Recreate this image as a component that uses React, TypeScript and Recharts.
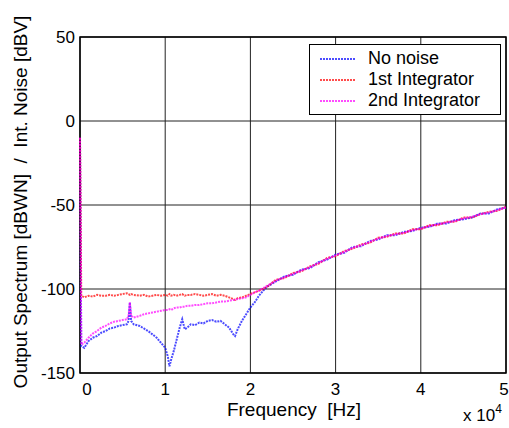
import React from 'react';
import { LineChart, Line, XAxis, YAxis, CartesianGrid, ReferenceArea } from 'recharts';

// frequency grid in Hz
const freqHz = [
  0, 150, 500, 1000, 1500, 2000, 2500, 3000, 3500, 4000, 4500, 5000, 5500, 5700, 5850, 6000, 6300,
  7000, 7500, 8000, 8500, 9000, 9500, 10000, 10300, 10500, 10700, 11000, 11300, 11700, 12000, 12300,
  12600, 13000, 13500, 14000, 14500, 15000, 15500, 16000, 16500, 17000, 17500, 18000, 18200, 18500,
  19000, 19500, 20000, 20500, 21000, 21500,
  22000, 23000, 24000, 25000, 26000, 27000, 28000, 29000, 30000, 31000, 32000, 33000, 34000, 35000,
  36000, 37000, 38000, 39000, 40000, 41000, 42000, 43000, 44000, 45000, 46000, 47000, 48000, 49000, 50000,
];

const noNoise = [
  -10, -134, -135, -131, -129, -128, -126, -125, -123.5, -123, -122, -121.5, -121, -119, -108, -119, -121,
  -122, -123.5, -125, -127, -129, -132, -135, -140, -146, -142, -137, -131, -123, -118, -124,
  -123, -121, -121.5, -120, -120.5, -119, -118.5, -119.5, -119, -121, -123, -127, -128, -124,
  -119, -115, -111, -108, -104, -101,
  -98.5, -95.5, -92.5, -91.5, -88.5, -87.5, -84, -82.5, -79.5, -78.5, -75, -74.5, -71.5, -70.5,
  -68, -68, -66, -65.5, -63.5, -63, -61, -61, -59, -58.5, -57.5, -55, -55, -52.5, -51.5,
];

const integrator1 = [
  -10, -104, -105, -104, -104.5, -103.5, -104, -104, -103.5, -104, -103.5, -103, -102.5, -103, -103.5, -103, -103.5,
  -104, -103.5, -104.5, -104, -103.5, -104, -103.5, -104, -103, -104, -103.5, -104, -103.5, -103, -104,
  -103.5, -103.5, -103, -103.5, -104, -103.5, -103, -104, -103.5, -104, -105, -106, -106.5, -105.5,
  -105, -104, -103, -102, -101, -100,
  -98.5, -94.5, -93.5, -90.5, -89.5, -86.5, -85, -81.5, -80.5, -77.5, -76, -73.5, -72.5, -69.5,
  -69, -67, -67, -64.5, -64.5, -62, -62, -60, -60, -57.5, -57.5, -55.5, -54, -53.5, -51,
];

const integrator2 = [
  -10, -133, -132, -129, -126.5, -125, -123, -122, -120.5, -119.5, -119, -118.5, -118, -116, -108, -116, -117,
  -116, -115, -114.5, -114, -113.5, -113, -112.5, -112.5, -112, -112.5, -111.5, -111, -111, -110.5, -110.5,
  -110, -110, -109.5, -109.5, -109, -108.5, -108.5, -108, -107.5, -107.5, -107, -106.5, -106.5, -106,
  -105.5, -105, -103.5, -102, -101, -99.5,
  -98, -95, -93, -91, -89, -87, -84.5, -82, -80, -78, -75.5, -74, -72, -70,
  -68.5, -67.5, -66.5, -65, -64, -62.5, -61.5, -60.5, -59.5, -58, -57, -55.5, -54.5, -53, -51.5,
];

const xTicks = [0, 10000, 20000, 30000, 40000, 50000];
const yTicks = [-150, -100, -50, 0, 50];

const series = [
  { key: 'noNoise', name: 'No noise', color: '#0000ff' },
  { key: 'int1', name: '1st Integrator', color: '#ff0000' },
  { key: 'int2', name: '2nd Integrator', color: '#ff00ff' },
];

const data = freqHz.map((f, i) => ({
  f,
  noNoise: noNoise[i],
  int1: integrator1[i],
  int2: integrator2[i],
}));

const font = '"Liberation Sans", Arial, sans-serif';

const XTick = ({ x, y, payload }: any) => {
  // matlab nudges the first label off the corner; last one sits on the edge
  const dx = payload.value === 0 ? 7 : payload.value === 50000 ? -2 : 0;
  return (
    <text x={x + dx} y={y + 22} textAnchor="middle" fontSize={17} fontFamily={font} fill="#000">
      {payload.value / 10000}
    </text>
  );
};

const YTick = ({ x, y, payload }: any) => (
  <text x={x} y={y + 6} textAnchor="end" fontSize={17} fontFamily={font} fill="#000">
    {payload.value}
  </text>
);

const LegendBox = () => (
  <div
    style={{
      position: 'absolute',
      left: 309,
      top: 44,
      width: 192,
      height: 71,
      border: '1px solid #000',
      background: '#fff',
      boxSizing: 'border-box',
      paddingTop: 3,
    }}
  >
    {series.map((s) => (
      <div key={s.key} style={{ display: 'flex', alignItems: 'center', height: 21, fontFamily: font, fontSize: 18 }}>
        <svg width={58} height={10}>
          <line x1={10} x2={45} y1={5} y2={5} stroke={s.color} strokeWidth={2} strokeDasharray="2 1" strokeOpacity={0.7} />
        </svg>
        <span>{s.name}</span>
      </div>
    ))}
  </div>
);

export default function App() {
  return (
    <div style={{ position: 'absolute', left: 0, top: 0, width: 509, height: 428, background: '#fff' }}>
      <LineChart width={509} height={428} data={data} margin={{ top: 37, right: 3, bottom: 0, left: 0 }}>
        <CartesianGrid stroke="#222" strokeWidth={1} />
        <XAxis
          dataKey="f"
          type="number"
          domain={[0, 50000]}
          ticks={xTicks}
          height={55}
          tickSize={0}
          tickMargin={0}
          tickLine={false}
          axisLine={false}
          tick={<XTick />}
          interval={0}
        />
        <YAxis
          type="number"
          domain={[-150, 50]}
          ticks={yTicks}
          width={80}
          tickSize={0}
          tickMargin={5}
          tickLine={false}
          axisLine={false}
          tick={<YTick />}
          interval={0}
        />
        <ReferenceArea x1={0} x2={50000} y1={-150} y2={50} fill="none" stroke="#000" strokeWidth={1.5} ifOverflow="visible" />
        {series.map((s) => (
          <Line
            key={s.key}
            dataKey={s.key}
            name={s.name}
            stroke={s.color}
            strokeOpacity={0.7}
            strokeWidth={2}
            strokeDasharray="2 1"
            dot={false}
            type="linear"
            isAnimationActive={false}
          />
        ))}
      </LineChart>
      <LegendBox />
      <div style={{ position: 'absolute', left: 0, top: 399, width: 588, textAlign: 'center', fontFamily: font, fontSize: 19, whiteSpace: 'pre' }}>
        {'Frequency  [Hz]'}
      </div>
      <div style={{ position: 'absolute', left: 463, top: 406, fontFamily: font, fontSize: 17, whiteSpace: 'pre' }}>
        x 10<sup style={{ fontSize: 12, verticalAlign: 'top', position: 'relative', top: -4 }}>4</sup>
      </div>
      <div
        style={{
          position: 'absolute',
          left: 21,
          top: 202,
          transform: 'translate(-50%, -50%) rotate(-90deg)',
          fontFamily: font,
          fontSize: 19,
          whiteSpace: 'pre',
        }}
      >
        {'Output Spectrum [dBWN]  /  Int. Noise [dBV]'}
      </div>
    </div>
  );
}
